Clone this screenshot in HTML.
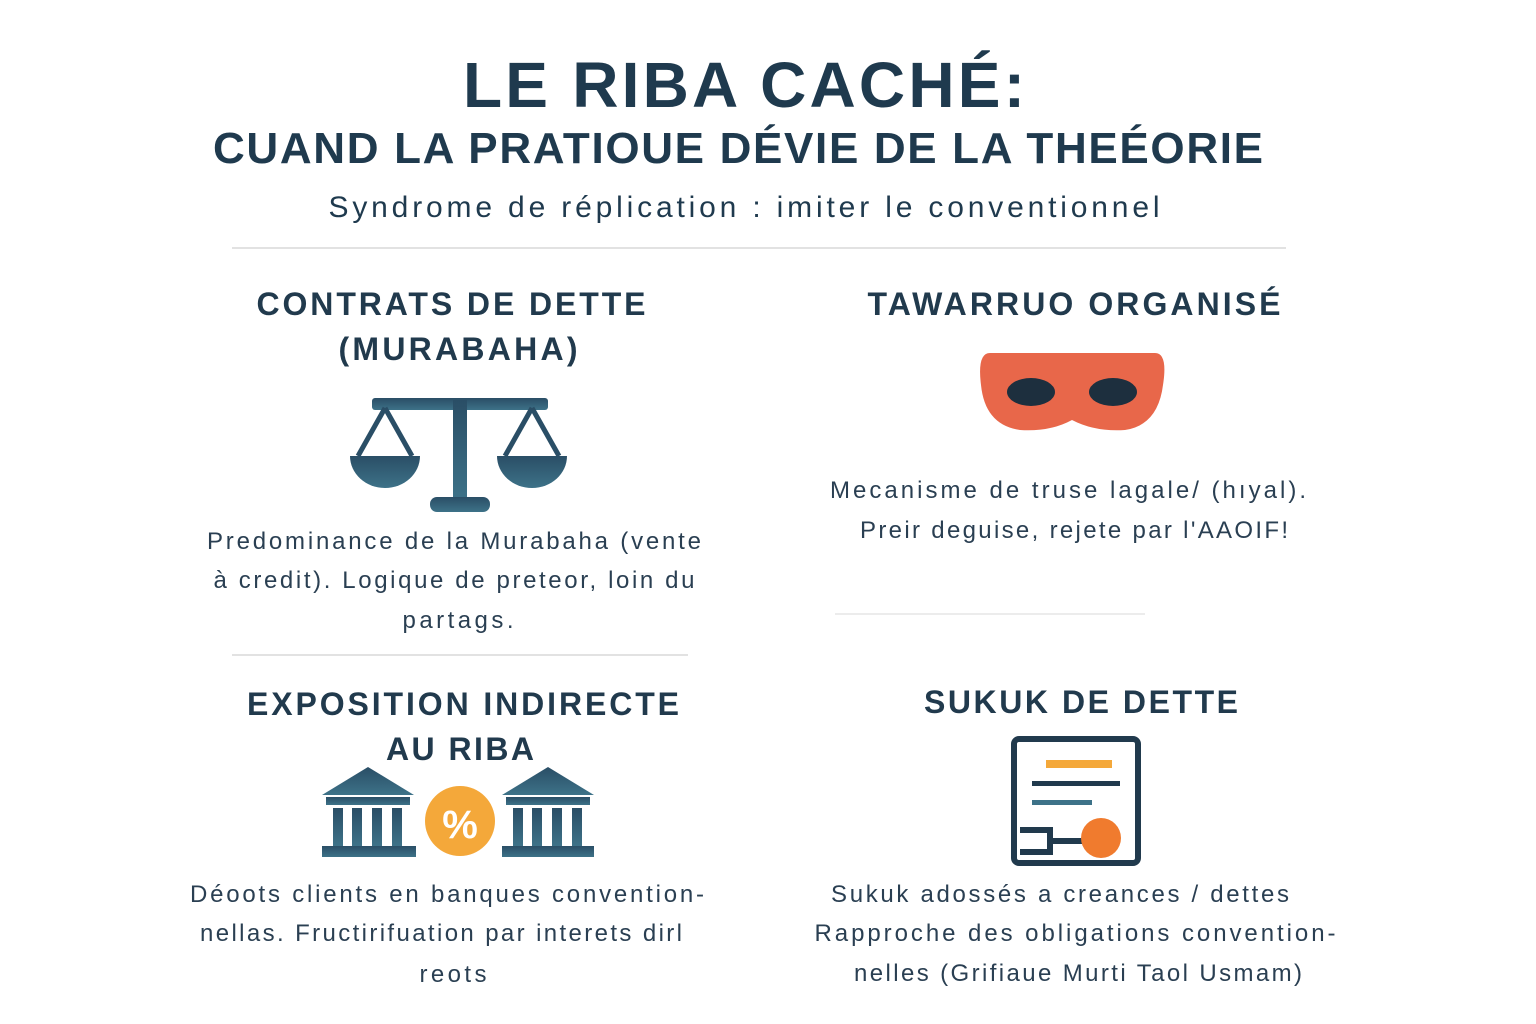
<!DOCTYPE html>
<html><head><meta charset="utf-8"><style>
html,body{margin:0;padding:0;background:#fff;}
svg{display:block}
text{font-family:"Liberation Sans",sans-serif;text-anchor:middle}
.h{font-weight:bold;fill:#213a4d;font-size:32px}
.b{fill:#2a3f52;font-size:24px}
</style></head><body>
<svg width="1536" height="1024" viewBox="0 0 1536 1024">
<defs>
<linearGradient id="g" x1="0" y1="0" x2="0" y2="1"><stop offset="0" stop-color="#2a4e66"/><stop offset="1" stop-color="#3d7288"/></linearGradient>
</defs>
<text x="744" y="107" textLength="562" lengthAdjust="spacing" style="font-weight:bold;font-size:64px;fill:#1f3a4e">LE RIBA CACHÉ:</text>
<text x="738" y="163" textLength="1050" lengthAdjust="spacing" style="font-weight:bold;font-size:44px;fill:#1f3a4e">CUAND LA PRATIOUE DÉVIE DE LA THEÉORIE</text>
<text x="744" y="217" textLength="831" lengthAdjust="spacing" style="font-size:30px;fill:#1f3a4e">Syndrome de réplication : imiter le conventionnel</text>
<line x1="232" y1="248" x2="1286" y2="248" stroke="#e2e2e2" stroke-width="2"/>

<text class="h" x="451" y="315" textLength="389" lengthAdjust="spacing">CONTRATS DE DETTE</text>
<text class="h" x="458" y="360" textLength="239" lengthAdjust="spacing">(MURABAHA)</text>
<g fill="url(#g)" stroke="none">
<rect x="372" y="398" width="176" height="12" rx="3"/>
<rect x="453" y="400" width="14" height="100"/>
<rect x="430" y="497" width="60" height="15" rx="7"/>
<path d="M350 456 H420 A35 32 0 0 1 350 456Z"/>
<path d="M497 456 H567 A35 32 0 0 1 497 456Z"/>
</g>
<g stroke="#2a4e66" stroke-width="5" fill="none">
<path d="M385 408 L358 456 M385 408 L412 456"/>
<path d="M532 408 L505 456 M532 408 L559 456"/>
</g>
<text class="b" x="454" y="549" textLength="494" lengthAdjust="spacing">Predominance de la Murabaha (vente</text>
<text class="b" x="454" y="588" textLength="481" lengthAdjust="spacing">à credit). Logique de preteor, loin du</text>
<text class="b" x="458" y="628" textLength="111" lengthAdjust="spacing">partags.</text>
<line x1="232" y1="655" x2="688" y2="655" stroke="#e2e2e2" stroke-width="2"/>

<text class="h" x="1074" y="315" textLength="413" lengthAdjust="spacing">TAWARRUO ORGANISÉ</text>
<path d="M990 353 H1155 Q1168 353 1163 385 Q1158 425 1125 430 Q1095 432 1072 420 Q1050 432 1020 430 Q985 425 981 385 Q977 353 990 353Z" fill="#e8674a"/>
<ellipse cx="1031" cy="392" rx="24" ry="14" fill="#1d2f3e"/>
<ellipse cx="1113" cy="392" rx="24" ry="14" fill="#1d2f3e"/>
<text class="b" x="1068" y="498" textLength="476" lengthAdjust="spacing">Mecanisme de truse lagale/ (hıyal).</text>
<text class="b" x="1074" y="538" textLength="428" lengthAdjust="spacing">Preir deguise, rejete par l'AAOIF!</text>
<line x1="835" y1="614" x2="1145" y2="614" stroke="#ececec" stroke-width="2"/>

<text class="h" x="463" y="715" textLength="432" lengthAdjust="spacing">EXPOSITION INDIRECTE</text>
<text class="h" x="460" y="760" textLength="148" lengthAdjust="spacing">AU RIBA</text>
<g fill="url(#g)">
<path d="M322 795 L368 767 L414 795Z"/><rect x="326" y="797" width="84" height="8"/>
<rect x="333" y="808" width="10" height="38"/><rect x="352" y="808" width="10" height="38"/><rect x="372" y="808" width="10" height="38"/><rect x="392" y="808" width="10" height="38"/>
<rect x="322" y="846" width="94" height="11"/>
<path d="M502 795 L548 767 L594 795Z"/><rect x="506" y="797" width="84" height="8"/>
<rect x="513" y="808" width="10" height="38"/><rect x="532" y="808" width="10" height="38"/><rect x="552" y="808" width="10" height="38"/><rect x="572" y="808" width="10" height="38"/>
<rect x="502" y="846" width="92" height="11"/>
</g>
<circle cx="460" cy="821" r="35" fill="#f4a83a"/>
<text x="460" y="838" style="font-weight:bold;font-size:40px;fill:#fff">%</text>
<text class="b" x="447" y="902" textLength="514" lengthAdjust="spacing">Déoots clients en banques convention-</text>
<text class="b" x="441" y="941" textLength="482" lengthAdjust="spacing">nellas. Fructirifuation par interets dirl</text>
<text class="b" x="453" y="982" textLength="67" lengthAdjust="spacing">reots</text>

<text class="h" x="1081" y="713" textLength="314" lengthAdjust="spacing">SUKUK DE DETTE</text>
<rect x="1014" y="739" width="124" height="124" rx="5" fill="#fff" stroke="#213a4d" stroke-width="6"/>
<rect x="1046" y="760" width="66" height="8" fill="#f4a83a"/>
<rect x="1032" y="781" width="88" height="5" fill="#213a4d"/>
<rect x="1032" y="800" width="60" height="5" fill="#3d7288"/>
<path d="M1020 830 H1050 V852 H1020 M1050 841 H1085" stroke="#213a4d" stroke-width="6" fill="none"/>
<circle cx="1101" cy="838" r="20" fill="#f07b2e"/>
<text class="b" x="1060" y="902" textLength="458" lengthAdjust="spacing">Sukuk adossés a creances / dettes</text>
<text class="b" x="1075" y="941" textLength="521" lengthAdjust="spacing">Rapproche des obligations convention-</text>
<text class="b" x="1078" y="981" textLength="448" lengthAdjust="spacing">nelles (Grifiaue Murti Taol Usmam)</text>
</svg>
</body></html>
